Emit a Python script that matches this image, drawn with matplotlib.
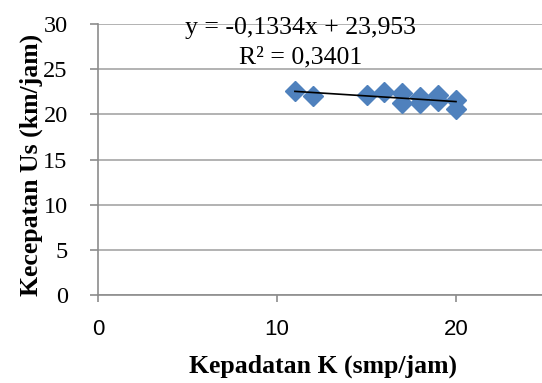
import numpy as np
import matplotlib
matplotlib.use("Agg")
import matplotlib.pyplot as plt

# data
kepadatan = [11, 12, 15, 16, 17, 17, 18, 18, 19, 19, 20, 20]
kecepatan = [22.6, 22.0, 22.1, 22.5, 22.4, 21.2, 21.9, 21.2, 22.1, 21.5, 21.6, 20.6]
y_ticks = [0, 5, 10, 15, 20, 25, 30]
x_ticks = [0, 10, 20]
eq_line1 = "y = -0,1334x + 23,953"
eq_line2 = "R² = 0,3401"

W, H = 542, 383
fig = plt.figure(figsize=(W / 100, H / 100), dpi=100)
ax = fig.add_axes([98 / W, 1 - 295 / H, 447.5 / W, 271 / H])

ax.plot(kepadatan, kecepatan, linestyle="none", marker="D", ms=10,
        color="#4F81BD", markeredgecolor="#4F81BD", zorder=3)

# garis tren
slope, intercept = np.polyfit(kepadatan, kecepatan, 1)
xs = np.array([min(kepadatan), max(kepadatan)])
ax.plot(xs, slope * xs + intercept, color="black", lw=1.2, zorder=4)

ax.set_xlim(0, 25)
ax.set_ylim(0, 30)
ax.set_xticks(x_ticks)
ax.set_yticks(y_ticks)
ax.set_xticklabels([str(t) for t in x_ticks], fontname="Liberation Sans", fontsize=16)
ax.set_yticklabels([str(t) for t in y_ticks], fontname="Liberation Serif", fontsize=17.5)
ax.yaxis.grid(True, color="#A6A6A6", lw=1.2)
ax.set_axisbelow(True)
for s in ["top", "right"]:
    ax.spines[s].set_visible(False)
for s in ["left", "bottom"]:
    ax.spines[s].set_color("#8C8C8C")
    ax.spines[s].set_linewidth(1.2)
ax.tick_params(axis="both", color="#8C8C8C", width=1.2)
ax.tick_params(axis="x", length=5, pad=12)
ax.tick_params(axis="y", length=5.8, pad=16)

# label sumbu
fig.text(323 / W, 1 - 366 / H, "Kepadatan K (smp/jam)", fontname="Liberation Serif",
         fontsize=18.5, fontweight="bold", ha="center", va="center")
fig.text(31 / W, 1 - 165 / H, "Kecepatan Us (km/jam)", fontname="Liberation Serif",
         fontsize=18.5, fontweight="bold", ha="center", va="center", rotation=90)

# persamaan regresi
ax.text(11.3, 28.9, eq_line1, fontname="Liberation Serif", fontsize=18.5,
        ha="center", va="baseline")
ax.text(11.3, 25.6, eq_line2, fontname="Liberation Serif", fontsize=18.5,
        ha="center", va="baseline")

fig.savefig("out.png", dpi=100)
